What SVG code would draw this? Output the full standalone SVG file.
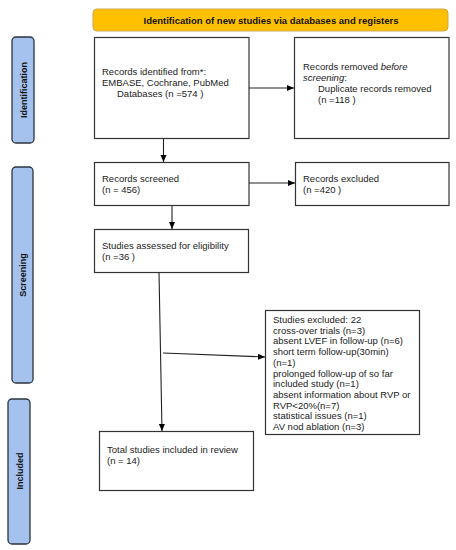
<svg xmlns="http://www.w3.org/2000/svg" width="456" height="550" viewBox="0 0 456 550">
<defs>
<marker id="ah" markerWidth="8" markerHeight="8" refX="7" refY="4" orient="auto" markerUnits="userSpaceOnUse">
<path d="M0,1 L7,4 L0,7 z" fill="#000"/>
</marker>
<style>
.box{fill:#fff;stroke:#333;stroke-width:1.2}
.side{fill:#a4c2ed;stroke:#2b3440;stroke-width:1.3}
.t{font-family:"Liberation Sans",Arial,sans-serif;font-size:9.5px;fill:#222}
.sl{font-family:"Liberation Sans",Arial,sans-serif;font-size:9px;font-weight:bold;fill:#111}
.ln{stroke:#222;stroke-width:1.1;fill:none}
</style>
</defs>
<rect width="456" height="550" fill="#fff"/>
<g id="header">
<rect x="93" y="9" width="355" height="22" rx="4" fill="#ffc000" stroke="#d0a850" stroke-width="1"/>
<text x="271" y="23.5" text-anchor="middle" class="t" style="font-weight:bold;fill:#111">Identification of new studies via databases and registers</text>
</g>
<g id="side-identification">
<rect x="12" y="37" width="22" height="106" rx="4" class="side"/>
<text class="sl" transform="translate(26.5,90) rotate(-90)" text-anchor="middle">Identification</text>
</g>
<g id="side-screening">
<rect x="12" y="167" width="21" height="216" rx="4" class="side"/>
<text class="sl" transform="translate(26,275) rotate(-90)" text-anchor="middle">Screening</text>
</g>
<g id="side-included">
<rect x="8" y="399" width="22" height="145" rx="4" class="side"/>
<text class="sl" transform="translate(22.5,471) rotate(-90)" text-anchor="middle">Included</text>
</g>
<g id="records-identified">
<rect x="94.5" y="37.5" width="154.5" height="101" class="box"/>
<text class="t" x="102" y="75">Records identified from*:</text>
<text class="t" x="102" y="86">EMBASE, Cochrane, PubMed</text>
<text class="t" x="117" y="97">Databases (n =574 )</text>
</g>
<g id="records-removed">
<rect x="294.5" y="37.5" width="154.5" height="101" class="box"/>
<text class="t" x="303" y="70">Records removed <tspan font-style="italic">before</tspan></text>
<text class="t" x="303" y="81" font-style="italic">screening<tspan font-style="normal">:</tspan></text>
<text class="t" x="318" y="92">Duplicate records removed</text>
<text class="t" x="318" y="103">(n =118 )</text>
</g>
<g id="records-screened">
<rect x="94.5" y="162.5" width="154.5" height="43" class="box"/>
<text class="t" x="102" y="182">Records screened</text>
<text class="t" x="102" y="193">(n = 456)</text>
</g>
<g id="records-excluded">
<rect x="295.5" y="162.5" width="153.5" height="43" class="box"/>
<text class="t" x="303" y="182">Records excluded</text>
<text class="t" x="303" y="193">(n =420 )</text>
</g>
<g id="studies-assessed">
<rect x="94.5" y="229.5" width="154" height="43" class="box"/>
<text class="t" x="102" y="249">Studies assessed for eligibility</text>
<text class="t" x="102" y="260">(n =36 )</text>
</g>
<g id="studies-excluded">
<rect x="265.5" y="310.5" width="154" height="124" class="box"/>
<text class="t" x="273" y="323">Studies excluded: 22</text>
<text class="t" x="273" y="333.7">cross-over trials (n=3)</text>
<text class="t" x="273" y="344.4">absent LVEF in follow-up (n=6)</text>
<text class="t" x="273" y="355.1">short term follow-up(30min)</text>
<text class="t" x="273" y="365.8">(n=1)</text>
<text class="t" x="273" y="376.5">prolonged follow-up of so far</text>
<text class="t" x="273" y="387.2">included study (n=1)</text>
<text class="t" x="273" y="397.9">absent information about RVP or</text>
<text class="t" x="273" y="408.6">RVP&lt;20%(n=7)</text>
<text class="t" x="273" y="419.3">statistical issues (n=1)</text>
<text class="t" x="273" y="430">AV nod ablation (n=3)</text>
</g>
<g id="total-included">
<rect x="99.5" y="431.5" width="154" height="59" class="box"/>
<text class="t" x="107" y="453">Total studies included in review</text>
<text class="t" x="107" y="464">(n = 14)</text>
</g>
<g id="connectors">
<line class="ln" x1="249" y1="88" x2="294" y2="88" marker-end="url(#ah)"/>
<line class="ln" x1="163.5" y1="138.5" x2="163.5" y2="162" marker-end="url(#ah)"/>
<line class="ln" x1="249" y1="183" x2="295" y2="183" marker-end="url(#ah)"/>
<line class="ln" x1="172" y1="205.5" x2="172" y2="229" marker-end="url(#ah)"/>
<line class="ln" x1="159" y1="272.5" x2="162" y2="431" marker-end="url(#ah)"/>
<line class="ln" x1="163" y1="353" x2="265" y2="357" marker-end="url(#ah)"/>
</g>
</svg>
